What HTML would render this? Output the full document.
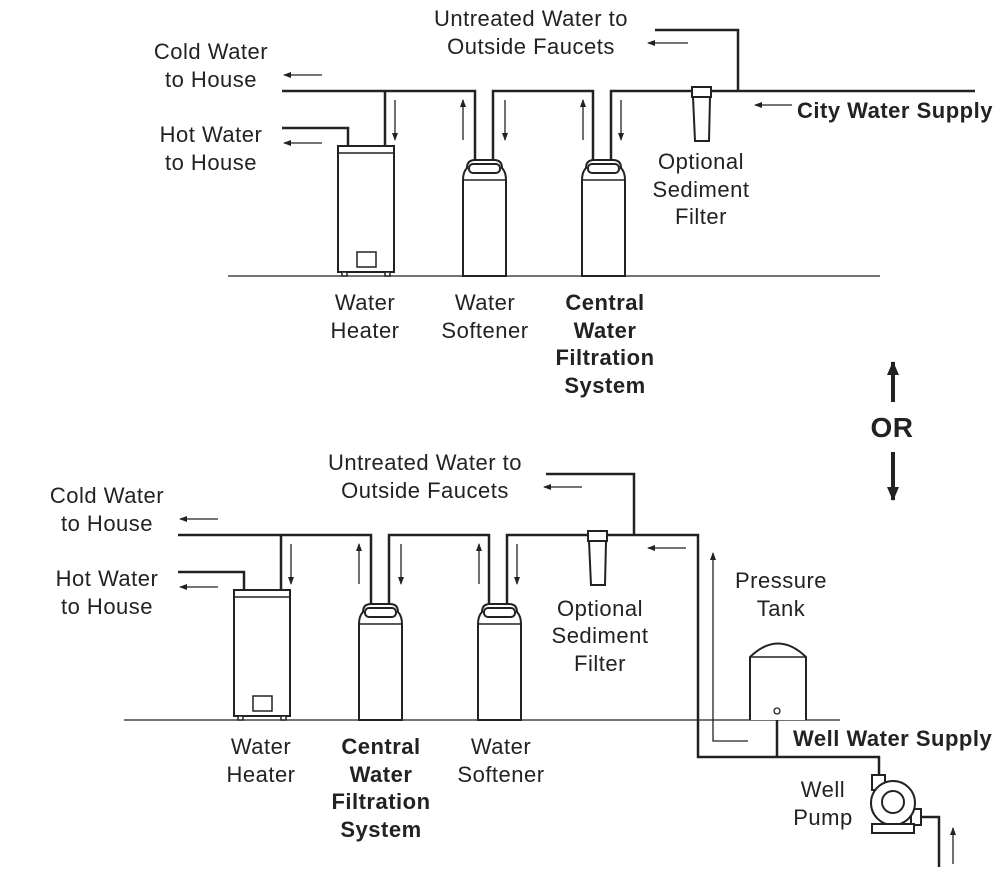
<!DOCTYPE html>
<html><head><meta charset="utf-8"><style>
html,body{margin:0;padding:0;background:#fff}
svg{display:block}
text{font-family:"Liberation Sans",sans-serif;font-size:22px;letter-spacing:0.5px;fill:#222}
.b{font-weight:bold}
</style></head><body>
<svg width="1005" height="874" viewBox="0 0 1005 874" xmlns="http://www.w3.org/2000/svg">
<defs>
<marker id="ah" markerWidth="8" markerHeight="8" refX="7" refY="4" orient="auto" markerUnits="userSpaceOnUse" viewBox="0 0 8 8"><path d="M0,1 L8,4 L0,7 Z" fill="#222"/></marker>
<marker id="ah2" markerWidth="14" markerHeight="12" refX="13" refY="6" orient="auto" markerUnits="userSpaceOnUse" viewBox="0 0 14 12"><path d="M0,0 L14,6 L0,12 Z" fill="#222"/></marker>
<g id="soft" fill="#fff" stroke="#222" stroke-width="2">
<path d="M0,116 V20 Q0,12 4,8 Q4,0 12,0 H31 Q39,0 39,8 Q43,12 43,20 V116 Z"/>
<path d="M0,20 H43" fill="none" stroke-width="1.5"/>
<rect x="6" y="4" width="31" height="9" rx="4"/>
</g>
<g id="heat" fill="#fff" stroke="#222" stroke-width="2">
<rect x="0" y="0" width="56" height="126"/>
<line x1="0" y1="7" x2="56" y2="7" stroke-width="1.5"/>
<rect x="19" y="106" width="19" height="15" stroke-width="1.5"/>
<rect x="4" y="126" width="5" height="4" stroke-width="1.5"/>
<rect x="47" y="126" width="5" height="4" stroke-width="1.5"/>
</g>
<g id="filt" fill="#fff" stroke="#222" stroke-width="2">
<rect x="0" y="-4" width="19" height="10"/>
<path d="M1,6 L18,6 L17,50 L3,50 Z"/>
</g>
</defs>
<g fill="none" stroke="#222" stroke-width="2.5">
<polyline points="282,91 475,91 475,160"/>
<polyline points="385,91 385,147"/>
<polyline points="282,128 348,128 348,147"/>
<polyline points="493,160 493,91 593,91 593,160"/>
<polyline points="611,160 611,91 975,91"/>
<polyline points="738,91 738,30 655,30"/>
<polyline points="178,535 371,535 371,604"/>
<polyline points="281,535 281,591"/>
<polyline points="178,572 244,572 244,591"/>
<polyline points="389,604 389,535 489,535 489,604"/>
<polyline points="507,604 507,535 698,535 698,757 879,757 879,775"/>
<polyline points="634,535 634,474 546,474"/>
<line x1="777" y1="713" x2="777" y2="757"/>
<polyline points="921,817 939,817 939,867"/>
</g>
<g stroke="#222" stroke-width="1.3" fill="none">
<line x1="228" y1="276" x2="880" y2="276"/>
<line x1="124" y1="720" x2="840" y2="720"/>
</g>
<use href="#heat" x="338" y="146"/>
<use href="#soft" x="463" y="160"/>
<use href="#soft" x="582" y="160"/>
<use href="#filt" x="692" y="91"/>
<use href="#heat" x="234" y="590"/>
<use href="#soft" x="359" y="604"/>
<use href="#soft" x="478" y="604"/>
<use href="#filt" x="588" y="535"/>
<path d="M750,720 V657 Q778,630 806,657 V720" fill="#fff" stroke="#222" stroke-width="2"/>
<line x1="750" y1="657" x2="806" y2="657" stroke="#222" stroke-width="1.5"/>
<circle cx="777" cy="711" r="3" fill="#fff" stroke="#222" stroke-width="1.3"/>
<g fill="#fff" stroke="#222" stroke-width="2">
<rect x="872" y="775" width="13" height="15"/>
<rect x="911" y="809" width="10" height="16"/>
<circle cx="893" cy="803" r="22"/>
<circle cx="893" cy="802" r="11"/>
<rect x="872" y="824" width="42" height="9"/>
</g>
<g stroke="#222" stroke-width="1.3" fill="none" marker-end="url(#ah)">
<line x1="322" y1="75" x2="284" y2="75"/>
<line x1="322" y1="143" x2="284" y2="143"/>
<line x1="395" y1="100" x2="395" y2="140"/>
<line x1="463" y1="140" x2="463" y2="100"/>
<line x1="505" y1="100" x2="505" y2="140"/>
<line x1="583" y1="140" x2="583" y2="100"/>
<line x1="621" y1="100" x2="621" y2="140"/>
<line x1="688" y1="43" x2="648" y2="43"/>
<line x1="792" y1="105" x2="755" y2="105"/>
<line x1="218" y1="519" x2="180" y2="519"/>
<line x1="218" y1="587" x2="180" y2="587"/>
<line x1="291" y1="544" x2="291" y2="584"/>
<line x1="359" y1="584" x2="359" y2="544"/>
<line x1="401" y1="544" x2="401" y2="584"/>
<line x1="479" y1="584" x2="479" y2="544"/>
<line x1="517" y1="544" x2="517" y2="584"/>
<line x1="582" y1="487" x2="544" y2="487"/>
<line x1="686" y1="548" x2="648" y2="548"/>
<polyline points="748,741 713,741 713,553"/>
<line x1="953" y1="864" x2="953" y2="828"/>
</g>
<g stroke="#222" stroke-width="4" marker-end="url(#ah2)">
<line x1="893" y1="402" x2="893" y2="362"/>
<line x1="893" y1="452" x2="893" y2="500"/>
</g>
<g text-anchor="middle">
<text x="531" y="26">Untreated Water to</text>
<text x="531" y="54">Outside Faucets</text>
<text x="211" y="59">Cold Water</text>
<text x="211" y="87">to House</text>
<text x="211" y="142">Hot Water</text>
<text x="211" y="170">to House</text>
<text x="701" y="169">Optional</text>
<text x="701" y="197">Sediment</text>
<text x="701" y="224">Filter</text>
<text x="365" y="310">Water</text>
<text x="365" y="338">Heater</text>
<text x="485" y="310">Water</text>
<text x="485" y="338">Softener</text>
<text class="b" x="605" y="310">Central</text>
<text class="b" x="605" y="338">Water</text>
<text class="b" x="605" y="365">Filtration</text>
<text class="b" x="605" y="393">System</text>
<text class="b" x="892" y="437" style="font-size:28px">OR</text>
<text x="425" y="470">Untreated Water to</text>
<text x="425" y="498">Outside Faucets</text>
<text x="107" y="503">Cold Water</text>
<text x="107" y="531">to House</text>
<text x="107" y="586">Hot Water</text>
<text x="107" y="614">to House</text>
<text x="600" y="616">Optional</text>
<text x="600" y="643">Sediment</text>
<text x="600" y="671">Filter</text>
<text x="781" y="588">Pressure</text>
<text x="781" y="616">Tank</text>
<text x="261" y="754">Water</text>
<text x="261" y="782">Heater</text>
<text class="b" x="381" y="754">Central</text>
<text class="b" x="381" y="782">Water</text>
<text class="b" x="381" y="809">Filtration</text>
<text class="b" x="381" y="837">System</text>
<text x="501" y="754">Water</text>
<text x="501" y="782">Softener</text>
<text x="823" y="797">Well</text>
<text x="823" y="825">Pump</text>
</g>
<text class="b" x="797" y="118">City Water Supply</text>
<text class="b" x="793" y="746">Well Water Supply</text>
</svg>
</body></html>
